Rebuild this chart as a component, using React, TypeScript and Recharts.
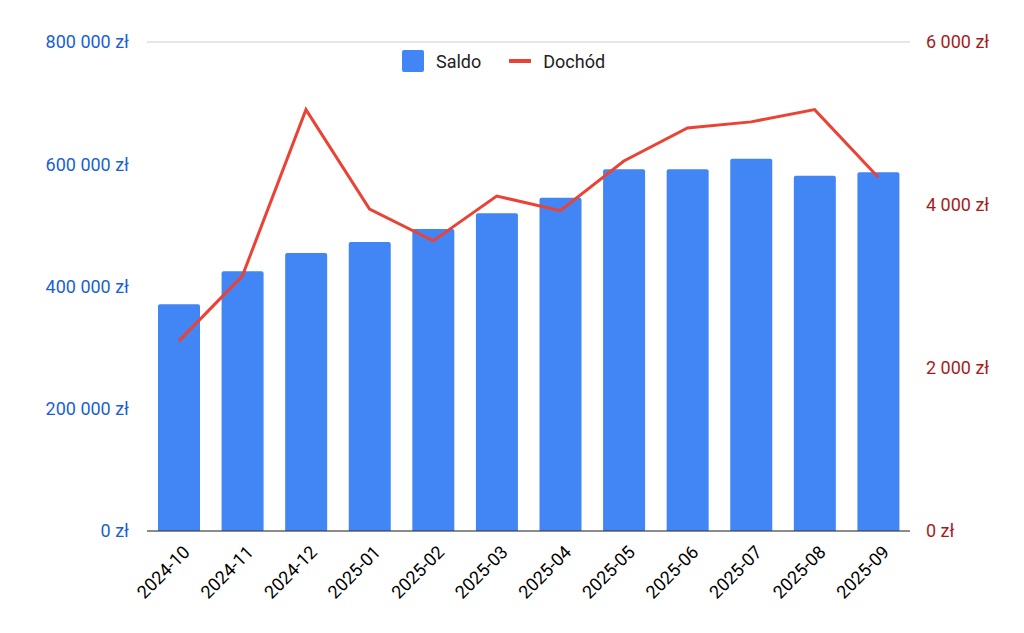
import React from 'react';
import { ComposedChart, Bar, Line, XAxis, YAxis, CartesianGrid } from 'recharts';

const months = ['2024-10', '2024-11', '2024-12', '2025-01', '2025-02', '2025-03', '2025-04', '2025-05', '2025-06', '2025-07', '2025-08', '2025-09'];
const saldo = [371000, 425000, 455000, 473000, 494000, 520000, 545000, 592000, 592000, 609000, 581000, 587000];
const dochod = [2330, 3130, 5170, 3950, 3560, 4110, 3930, 4540, 4945, 5020, 5170, 4340];
const leftTicks = [0, 200000, 400000, 600000, 800000];
const rightTicks = [0, 2000, 4000, 6000];

const data = months.map((m, i) => ({ month: m, saldo: saldo[i], dochod: dochod[i] }));

const fmt = (v: number) => `${v.toString().replace(/\B(?=(\d{3})+(?!\d))/g, ' ')} zł`;

const XTick = (props: any) => {
  const { x, y, payload } = props;
  return (
    <text x={x + 8} y={y + 10} transform={`rotate(-45, ${x + 8}, ${y + 10})`} textAnchor="end" fill="#000" fontSize={18} dy={6}>
      {payload.value}
    </text>
  );
};

export default function App() {
  return (
    <div style={{ position: 'absolute', left: 0, top: 0, width: 1024, height: 633, fontFamily: 'Roboto, Arial, sans-serif' }}>
      <ComposedChart width={1024} height={633} data={data} margin={{ top: 42, right: 0, left: 0, bottom: 0 }}>
        <CartesianGrid vertical={false} stroke="#cccccc" />
        <XAxis dataKey="month" tick={<XTick />} tickLine={false} axisLine={{ stroke: '#333' }} height={102} interval={0} />
        <YAxis yAxisId="left" width={147} domain={[0, 800000]} ticks={leftTicks} tickFormatter={fmt} axisLine={false} tickLine={false} tick={{ fill: '#1a5fd4', fontSize: 18 }} tickMargin={12} />
        <YAxis yAxisId="right" orientation="right" width={114} domain={[0, 6000]} ticks={rightTicks} tickFormatter={fmt} axisLine={false} tickLine={false} tick={{ fill: '#a61c1c', fontSize: 18 }} tickMargin={10} />
        <Bar yAxisId="left" dataKey="saldo" name="Saldo" fill="#4285f4" barSize={42} radius={[2, 2, 0, 0]} isAnimationActive={false} />
        <Line yAxisId="right" dataKey="dochod" name="Dochód" stroke="#ea4335" strokeWidth={3} dot={false} isAnimationActive={false} />
      </ComposedChart>
      <div style={{ position: 'absolute', top: 50, left: 402, display: 'flex', alignItems: 'center', fontSize: 18, color: '#222' }}>
        <span style={{ width: 22, height: 22, background: '#4285f4', borderRadius: 2, marginRight: 12 }} />
        <span style={{ marginRight: 28 }}>Saldo</span>
        <span style={{ width: 22, height: 4, background: '#ea4335', marginRight: 12 }} />
        <span>Dochód</span>
      </div>
    </div>
  );
}
